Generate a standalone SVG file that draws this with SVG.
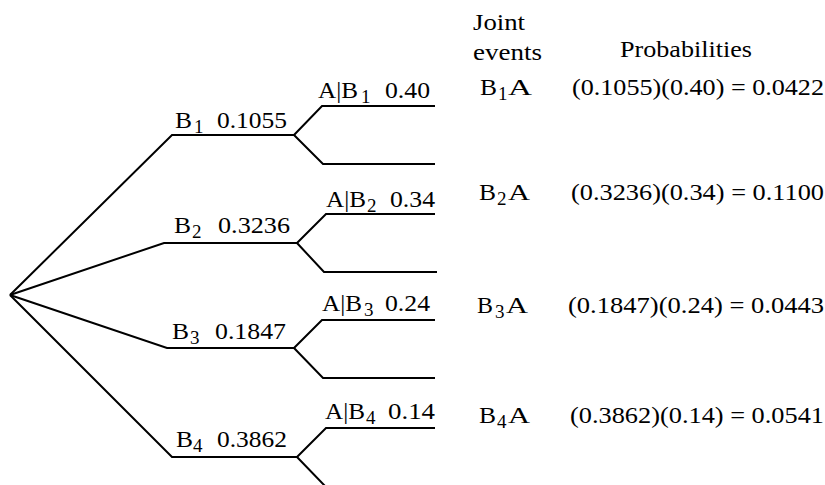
<svg xmlns="http://www.w3.org/2000/svg" width="825" height="485" viewBox="0 0 825 485" font-family="'Liberation Serif', 'DejaVu Serif', serif">
<style>
text{font-family:'Liberation Serif','DejaVu Serif',serif;font-size:23px;fill:#000}
.s{font-size:19px}
.c{fill:none;stroke:#000;stroke-width:2;stroke-linejoin:miter}
</style>
<rect width="825" height="485" fill="#fff"/>
<g id="connectors" class="c">
<path d="M10 295 L172 135 L294 135"/>
<path d="M10 295 L164 243 L297 243"/>
<path d="M10 295 L167 348 L294 348"/>
<path d="M10 295 L172 457 L297 457"/>
<path d="M294 135 L322 106 L435 106"/>
<path d="M294 135 L323 164 L435 164"/>
<path d="M297 243 L326 214 L435 214"/>
<path d="M297 243 L324 272 L437 272"/>
<path d="M294 348 L322 320 L435 320"/>
<path d="M294 348 L323 378 L435 378"/>
<path d="M297 457 L326 428 L435 428"/>
<path d="M297 457 L325 486 L437 486"/>
</g>
<g id="B1">
<text x="175" y="128" textLength="17" lengthAdjust="spacingAndGlyphs">B</text>
<text class="s" x="194" y="133">1</text>
<text x="217" y="128" textLength="70" lengthAdjust="spacingAndGlyphs">0.1055</text>
</g>
<g id="AB1">
<text x="318" y="98" textLength="40" lengthAdjust="spacingAndGlyphs">A|B</text>
<text class="s" x="361" y="103">1</text>
<text x="385" y="98" textLength="45" lengthAdjust="spacingAndGlyphs">0.40</text>
</g>
<g id="B2">
<text x="174" y="233" textLength="17" lengthAdjust="spacingAndGlyphs">B</text>
<text class="s" x="192" y="238">2</text>
<text x="218" y="233" textLength="72" lengthAdjust="spacingAndGlyphs">0.3236</text>
</g>
<g id="AB2">
<text x="326" y="207" textLength="40" lengthAdjust="spacingAndGlyphs">A|B</text>
<text class="s" x="367" y="212">2</text>
<text x="390" y="207" textLength="45" lengthAdjust="spacingAndGlyphs">0.34</text>
</g>
<g id="B3">
<text x="172" y="339" textLength="17" lengthAdjust="spacingAndGlyphs">B</text>
<text class="s" x="190" y="344">3</text>
<text x="215" y="339" textLength="71" lengthAdjust="spacingAndGlyphs">0.1847</text>
</g>
<g id="AB3">
<text x="322" y="311" textLength="40" lengthAdjust="spacingAndGlyphs">A|B</text>
<text class="s" x="364" y="316">3</text>
<text x="385" y="311" textLength="45" lengthAdjust="spacingAndGlyphs">0.24</text>
</g>
<g id="B4">
<text x="176" y="447" textLength="17" lengthAdjust="spacingAndGlyphs">B</text>
<text class="s" x="193" y="452">4</text>
<text x="217" y="447" textLength="70" lengthAdjust="spacingAndGlyphs">0.3862</text>
</g>
<g id="AB4">
<text x="325" y="419" textLength="40" lengthAdjust="spacingAndGlyphs">A|B</text>
<text class="s" x="366" y="424">4</text>
<text x="388" y="419" textLength="47" lengthAdjust="spacingAndGlyphs">0.14</text>
</g>
<g id="headers">
<text x="473" y="30" textLength="52" lengthAdjust="spacingAndGlyphs">Joint</text>
<text x="473" y="60" textLength="69" lengthAdjust="spacingAndGlyphs">events</text>
<text x="620" y="57" textLength="132" lengthAdjust="spacingAndGlyphs">Probabilities</text>
</g>
<g id="J1">
<text x="480" y="95" textLength="17" lengthAdjust="spacingAndGlyphs">B</text>
<text class="s" x="498" y="100">1</text>
<text x="508" y="95" textLength="24" lengthAdjust="spacingAndGlyphs">A</text>
<text x="572" y="95" textLength="252" lengthAdjust="spacingAndGlyphs">(0.1055)(0.40) = 0.0422</text>
</g>
<g id="J2">
<text x="479" y="200" textLength="17" lengthAdjust="spacingAndGlyphs">B</text>
<text class="s" x="497" y="205">2</text>
<text x="508" y="200" textLength="22" lengthAdjust="spacingAndGlyphs">A</text>
<text x="571" y="200" textLength="253" lengthAdjust="spacingAndGlyphs">(0.3236)(0.34) = 0.1100</text>
</g>
<g id="J3">
<text x="477" y="313" textLength="16" lengthAdjust="spacingAndGlyphs">B</text>
<text class="s" x="495" y="318">3</text>
<text x="506" y="313" textLength="22" lengthAdjust="spacingAndGlyphs">A</text>
<text x="568" y="313" textLength="256" lengthAdjust="spacingAndGlyphs">(0.1847)(0.24) = 0.0443</text>
</g>
<g id="J4">
<text x="479" y="423" textLength="17" lengthAdjust="spacingAndGlyphs">B</text>
<text class="s" x="497" y="428">4</text>
<text x="508" y="423" textLength="22" lengthAdjust="spacingAndGlyphs">A</text>
<text x="570" y="423" textLength="254" lengthAdjust="spacingAndGlyphs">(0.3862)(0.14) = 0.0541</text>
</g>
</svg>
